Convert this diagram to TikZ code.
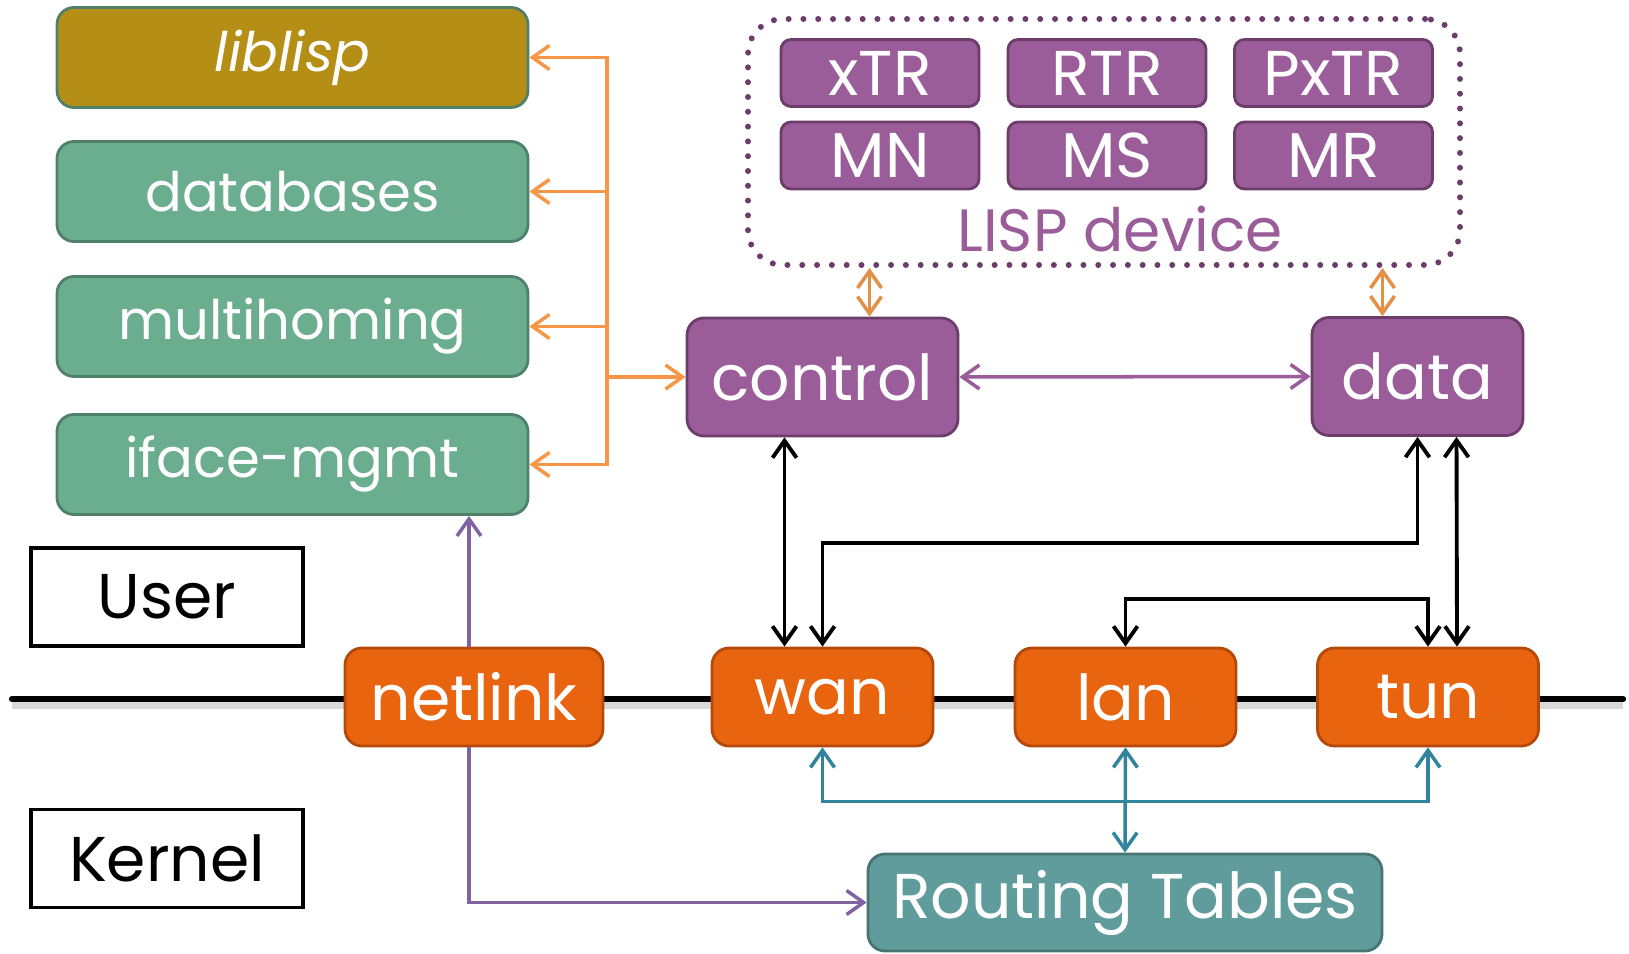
\documentclass[tikz,border=0pt]{standalone}
\usepackage{fontspec}
\setmainfont{Poppins}
\usepackage{tikz}
\usetikzlibrary{arrows.meta,calc,positioning}

\definecolor{libgold}{HTML}{B58E16}
\definecolor{sage}{HTML}{6BAD8F}
\definecolor{sageline}{HTML}{4F8069}
\definecolor{plum}{HTML}{9B5D9A}
\definecolor{plumline}{HTML}{6C3D6B}
\definecolor{rust}{HTML}{E8640F}
\definecolor{rustline}{HTML}{B4490A}
\definecolor{tabteal}{HTML}{5F9C9B}
\definecolor{tabline}{HTML}{477574}
\definecolor{busorange}{HTML}{F79646}
\definecolor{devorange}{HTML}{E29149}
\definecolor{nlpurple}{HTML}{8064A2}
\definecolor{rtteal}{HTML}{31849B}

\begin{document}
\begin{tikzpicture}[
		basebox/.style={rounded corners=0.17cm, line width=0.8pt, text=white, inner sep=0pt},
		modbox/.style={basebox, fill=sage, draw=sageline, minimum width=4.71cm, minimum height=1cm, font=\fontsize{15.5}{17}\selectfont},
		libbox/.style={modbox, fill=libgold, font=\fontsize{15.5}{17}\selectfont\itshape},
		rolebox/.style={basebox, rounded corners=0.1cm, fill=plum, draw=plumline, minimum width=1.98cm, minimum height=0.67cm, font=\fontsize{18}{20}\selectfont},
		planebox/.style={basebox, fill=plum, draw=plumline, minimum height=1.18cm, font=\fontsize{18}{20}\selectfont},
		ifbox/.style={basebox, fill=rust, draw=rustline, minimum width=2.21cm, minimum height=0.98cm, font=\fontsize{18}{20}\selectfont},
		tabbox/.style={basebox, fill=tabteal, draw=tabline, minimum width=5.14cm, minimum height=0.97cm, font=\fontsize{18}{20}\selectfont},
		layerbox/.style={draw, line width=1.1pt, minimum width=2.72cm, minimum height=0.98cm, font=\fontsize{18}{20}\selectfont},
		devbox/.style={draw=plumline, line width=0.06cm, dash pattern=on 0pt off 0.148cm, line cap=round, rounded corners=0.35cm, minimum width=7.12cm, minimum height=2.46cm},
		bus/.style={busorange, line width=1pt},
		blk/.style={black, line width=1.1pt},
		>={Straight Barb[length=0.17cm,width=0.24cm]}
		]
	\useasboundingbox (0,0) rectangle (16.29,9.53);

	% modules utilisateur
	\node[libbox] (liblisp) at (2.925, 8.955) {liblisp};
	\node[modbox] (databases) at (2.925, 7.615) {databases};
	\node[modbox] (multihoming) at (2.925, 6.265) {multihoming};
	\node[modbox] (iface) at (2.925, 4.885) {iface-mgmt};

	% LISP device
	\node[devbox] (lisp) at (11.04, 8.11) {};
	\node[rolebox] (xtr) at (8.80, 8.80) {xTR};
	\node[rolebox] (rtr) at (11.07, 8.80) {RTR};
	\node[rolebox] (pxtr) at (13.335, 8.80) {PxTR};
	\node[rolebox] (mn) at (8.80, 7.975) {MN};
	\node[rolebox] (ms) at (11.07, 7.975) {MS};
	\node[rolebox] (mr) at (13.335, 7.975) {MR};
	\node[text=plum, anchor=base, inner sep=0pt, font=\fontsize{17}{19}\selectfont] (devlabel) at (11.2, 7.01) {LISP device};

	\node[planebox, minimum width=2.71cm] (control) at (8.225, 5.76) {control};
	\node[planebox, minimum width=2.11cm] (data) at (14.175, 5.765) {data};

	% user / kernel
	\node[layerbox] (user) at (1.67, 3.56) {User};
	\node[layerbox] (kernel) at (1.67, 0.945) {Kernel};

	\coordinate (lineL) at (0.12, 2.54);
	\coordinate (lineR) at (16.23, 2.54);
	\draw[black!15, line width=3pt] ([yshift=-0.05cm]lineL) -- ([yshift=-0.05cm]lineR);
	\draw[line width=1.8pt, line cap=round] (lineL) -- (lineR);

	\node[ifbox, minimum width=2.58cm] (netlink) at (4.74, 2.56) {netlink};
	\node[ifbox] (wan) at (8.225, 2.56) {wan};
	\node[ifbox] (lan) at (11.255, 2.56) {lan};
	\node[ifbox] (tun) at (14.28, 2.56) {tun};
	\node[tabbox] (rt) at (11.25, 0.505) {Routing Tables};

	% bus orange
	\coordinate (busx) at (6.07, 0);
	\draw[bus, <->] (liblisp.east) -| (busx |- iface.east) -- (iface.east);
	\draw[bus, ->] (busx |- databases.east) -- (databases.east);
	\draw[bus, ->] (busx |- multihoming.east) -- (multihoming.east);
	\draw[bus, ->] (busx |- control.west) -- (control.west);

	% LISP device <-> control / data
	\draw[devorange, line width=1pt, <->] ([xshift=0.47cm]control.north |- lisp.south) -- ([xshift=0.47cm]control.north);
	\draw[devorange, line width=1pt, <->] ([xshift=-0.35cm]data.north |- lisp.south) -- ([xshift=-0.35cm]data.north);
	\draw[plum, line width=1pt, <->] (control.east) -- (data.west);

	% control / data <-> interfaces
	\draw[blk, <->] ([xshift=-0.38cm]control.south) -- ([xshift=-0.38cm]wan.north);
	\draw[blk, <->] (data.south) -- ++(0,-1.06) -| (wan.north);
	\draw[blk, <->] ([xshift=0.39cm]data.south) -- ([xshift=0.29cm]tun.north);
	\draw[blk, <->] (lan.north) -- ++(0,0.48) -| (tun.north);

	% interfaces <-> tables
	\draw[rtteal, line width=1pt, <->] (wan.south) -- ++(0,-0.54) -| (tun.south);
	\draw[rtteal, line width=1pt, <->] (lan.south) -- (rt.north);

	% netlink
	\coordinate (nlx) at (4.69, 0);
	\draw[nlpurple, line width=1pt, ->] (nlx |- netlink.north) -- (nlx |- iface.south);
	\draw[nlpurple, line width=1pt, ->] (nlx |- netlink.south) |- (rt.west);
\end{tikzpicture}
\end{document}
